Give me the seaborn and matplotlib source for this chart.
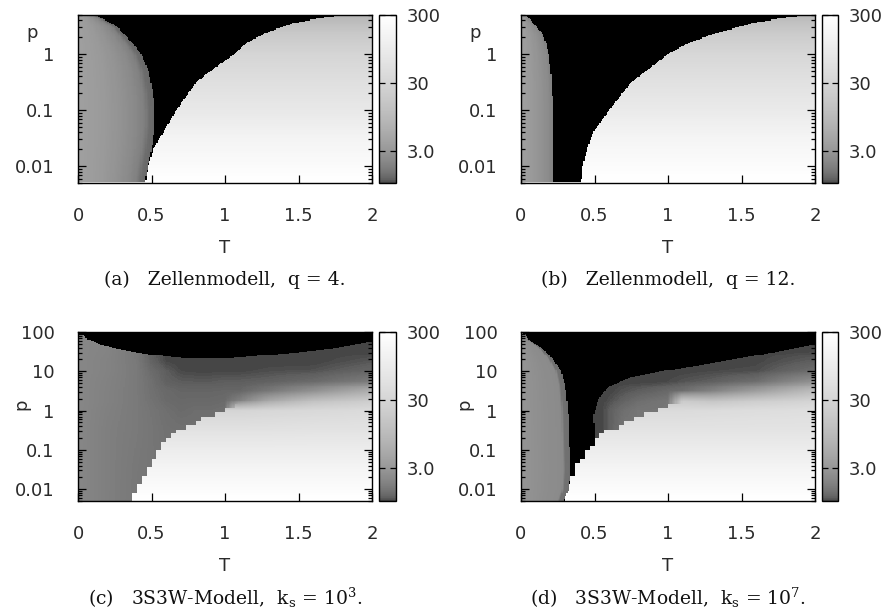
import numpy as np
import pandas as pd
import seaborn as sns
import matplotlib
matplotlib.use("Agg")
import matplotlib.pyplot as plt
from matplotlib.colors import LogNorm, LinearSegmentedColormap
from matplotlib.ticker import NullLocator

sns.set_theme(style="white")
plt.rcParams["font.family"] = ["DejaVu Sans"]
plt.rcParams["mathtext.fontset"] = "dejavuserif"

# ---------------------------------------------------------------- axes ranges
T_MIN, T_MAX = 0.0, 2.0
P_MIN = 0.005
P_MAX_CELL = 5.0      # cell model panels
P_MAX_3S3W = 100.0    # 3S3W panels
CB_MIN, CB_MAX = 1.0, 300.0

T_TICKS = [0, 0.5, 1, 1.5, 2]
T_LABELS = ["0", "0.5", "1", "1.5", "2"]
P_TICKS_CELL = [0.01, 0.1, 1]
P_LABELS_CELL = ["0.01", "0.1", "1"]
P_TICKS_3S3W = [0.01, 0.1, 1, 10, 100]
P_LABELS_3S3W = ["0.01", "0.1", "1", "10", "100"]
CB_TICKS = [3, 30, 300]
CB_LABELS = ["3.0", "30", "300"]

CAPTIONS = [
    "(a)   Zellenmodell,  q = 4.",
    "(b)   Zellenmodell,  q = 12.",
    r"(c)   3S3W-Modell,  $\mathrm{k_s}$ = 10$^{3}$.",
    r"(d)   3S3W-Modell,  $\mathrm{k_s}$ = 10$^{7}$.",
]

# ------------------------------------------------ (a) cell model, q = 4
# right edge of the dense (left) phase: log10 p -> T
a_dense_lp = [-2.30, -2.0, -1.7, -1.3, -1.0, -0.7, -0.3, 0.0, 0.2, 0.37, 0.5, 0.6, 0.7]
a_dense_T = [0.455, 0.475, 0.50, 0.52, 0.52, 0.51, 0.48, 0.43, 0.37, 0.31, 0.26, 0.19, 0.11]
# left edge of the dilute (right) phase: log10 p -> T
a_gas_lp = [-2.30, -2.0, -1.7, -1.4, -1.0, -0.5, -0.22, 0.0, 0.2, 0.37, 0.55, 0.64, 0.7]
a_gas_T = [0.458, 0.478, 0.51, 0.578, 0.669, 0.805, 0.941, 1.066, 1.145, 1.27, 1.46, 1.64, 1.85]
# dense phase value across its width (T / edge)
a_dense_frac = [0.0, 0.3, 0.6, 0.85, 0.93, 1.0]
a_dense_val = [3.86, 3.33, 2.55, 1.82, 1.31, 1.23]
# dilute phase value versus log10 p
a_gas_val_lp = [-2.3, -2.0, -1.5, -1.0, -0.5, 0.0, 0.4, 0.7]
a_gas_val = [300, 230, 150, 80, 50, 30, 16, 8]
a_floor_val = 90.0

# ------------------------------------------------ (b) cell model, q = 12
b_dense_lp = [-2.3, -1.0, -0.5, 0.0, 0.2, 0.375, 0.55, 0.7]
b_dense_T = [0.215, 0.215, 0.21, 0.188, 0.17, 0.143, 0.086, 0.03]
b_gas_lp = [-2.30, -2.0, -1.7, -1.4, -1.0, -0.5, -0.22, 0.0, 0.2, 0.37, 0.55, 0.64, 0.7]
b_gas_T = [0.41, 0.42, 0.45, 0.49, 0.60, 0.75, 0.89, 1.0, 1.14, 1.32, 1.57, 1.77, 1.98]
b_dense_frac = [0.0, 0.5, 0.85, 1.0]
b_dense_val = [3.86, 2.9, 2.26, 1.82]
b_gas_val_lp = [-2.3, -2.0, -1.5, -1.0, -0.5, 0.0, 0.4, 0.7]
b_gas_val = [300, 240, 160, 88, 55, 33, 18, 9]
b_floor_val = 90.0

# ------------------------------------------------ (c) 3S3W, k_s = 1e3
# upper limit of the solution: T -> log10 p
c_top_T = [0.0, 0.045, 0.06, 0.15, 0.26, 0.37, 0.49, 0.6, 0.74, 0.87, 1.05, 1.28, 1.51, 1.73, 2.0]
c_top_lp = [1.95, 1.91, 1.82, 1.68, 1.58, 1.50, 1.43, 1.38, 1.33, 1.32, 1.34, 1.41, 1.49, 1.58, 1.75]
# value table (rows: log10 p from high to low, columns: T)
c_tab_T = [0.0, 0.2, 0.4, 0.5, 0.6, 0.7, 0.8, 0.9, 1.0, 1.1, 1.3, 1.6, 2.0]
c_tab_lp = [2.0, 1.5, 1.25, 1.0, 0.75, 0.5, 0.25, 0.0, -0.5, -1.0, -1.5, -2.3]
c_tab_val = [
    [2.05, 1.90, 1.52, 1.11, 1.00, 1.00, 1.00, 1.00, 1.00, 1.00, 1.00, 1.00, 1.00],
    [2.05, 1.90, 1.52, 1.11, 1.00, 1.00, 1.00, 1.00, 1.00, 1.00, 1.00, 1.00, 1.00],
    [2.05, 1.86, 1.55, 1.16, 1.02, 1.00, 1.00, 1.00, 1.00, 1.00, 1.00, 1.00, 1.08],
    [2.05, 1.86, 1.57, 1.27, 1.11, 1.02, 1.01, 1.01, 1.01, 1.01, 1.04, 1.06, 1.20],
    [2.05, 1.82, 1.57, 1.34, 1.14, 1.10, 1.09, 1.09, 1.11, 1.11, 1.14, 1.25, 1.60],
    [2.05, 1.80, 1.57, 1.36, 1.24, 1.19, 1.19, 1.19, 1.20, 1.20, 1.50, 2.50, 6.00],
    [2.05, 1.80, 1.57, 1.40, 1.27, 1.23, 1.24, 1.24, 1.27, 1.80, 5.00, 12.0, 20.0],
    [2.05, 1.76, 1.57, 1.45, 1.34, 1.27, 1.31, 1.31, 1.34, 30.0, 33.0, 36.0, 40.0],
    [2.05, 1.72, 1.57, 1.47, 1.38, 1.36, 1.36, 1.36, 1.36, 58.0, 58.0, 60.0, 60.0],
    [2.05, 1.72, 1.55, 1.47, 1.40, 1.36, 1.36, 1.36, 1.36, 100., 100., 100., 100.],
    [2.05, 1.72, 1.53, 1.47, 1.40, 1.36, 1.36, 1.36, 1.36, 160., 160., 160., 160.],
    [2.05, 1.72, 1.52, 1.47, 1.40, 1.36, 1.36, 1.36, 1.36, 300., 300., 300., 300.],
]
# temperature above which both phases are one branch
c_crit_T = 1.1
# left edge of the dilute phase: log10 p -> T
c_gas_lp = [-2.3, -2.0, -1.75, -1.5, -1.25, -1.0, -0.75, -0.55, -0.4, -0.2, -0.1, 0.05, 0.15]
c_gas_T = [0.374, 0.385, 0.43, 0.465, 0.51, 0.544, 0.59, 0.646, 0.737, 0.85, 0.94, 1.03, 1.08]

# ------------------------------------------------ (d) 3S3W, k_s = 1e7
d_dense_lp = [-2.3, -2.0, -1.5, -1.0, 0.0, 0.66, 1.03, 1.34, 1.6, 1.77, 1.94, 2.0]
d_dense_T = [0.29, 0.325, 0.335, 0.33, 0.32, 0.30, 0.27, 0.21, 0.14, 0.06, 0.03, 0.0]
d_dense_frac = [0.0, 0.5, 0.85, 0.9, 1.0]
d_dense_val = [2.76, 2.37, 2.16, 1.40, 1.31]
# left edge of the solution right of the gap: log10 p -> T
d_edge_lp = [-2.3, -0.85, -0.8, -0.11, 0.32, 0.62, 0.83, 1.0, 1.21, 1.43, 1.68, 1.8]
d_edge_T = [2.1, 2.1, 0.50, 0.494, 0.53, 0.60, 0.73, 0.96, 1.30, 1.64, 2.0, 2.3]
d_tab_T = [0.45, 0.5, 0.55, 0.6, 0.7, 0.8, 0.9, 1.0, 1.1, 1.3, 1.6, 2.0]
d_tab_lp = [2.0, 1.75, 1.5, 1.25, 1.0, 0.75, 0.5, 0.25, 0.0, -0.5, -1.0, -1.5, -2.3]
d_tab_val = [
    [1.0] * 12,
    [1.0] * 12,
    [1.0] * 11 + [1.02],
    [1.0] * 10 + [1.01, 1.12],
    [1.0] * 9 + [1.02, 1.04, 1.30],
    [1.0, 1.0, 1.0, 1.0, 1.0, 1.0, 1.0, 1.02, 1.06, 1.12, 1.30, 2.50],
    [1.0, 1.0, 1.0, 1.0, 1.06, 1.11, 1.16, 1.23, 1.31, 1.80, 3.50, 10.0],
    [1.0, 1.0, 1.0, 1.04, 1.16, 1.31, 1.40, 1.47, 18.0, 14.0, 20.0, 28.0],
    [1.0, 1.0, 1.01, 1.11, 1.34, 1.47, 1.47, 1.47, 40.0, 42.0, 45.0, 48.0],
    [1.0, 1.0, 1.01, 1.11, 1.47, 1.47, 1.47, 1.47, 62.0, 62.0, 62.0, 62.0],
    [1.0] * 8 + [100.0] * 4,
    [1.0] * 8 + [160.0] * 4,
    [1.0] * 8 + [300.0] * 4,
]
d_crit_T = 1.1
d_gas_lp = [-2.3, -1.99, -1.82, -1.65, -1.56, -1.39, -1.22, -1.05, -0.88, -0.71, -0.54,
            -0.41, -0.2, -0.07, 0.02, 0.145, 0.27]
d_gas_T = [0.29, 0.30, 0.324, 0.347, 0.358, 0.38, 0.414, 0.437, 0.482, 0.516, 0.573,
           0.664, 0.754, 0.845, 0.935, 1.026, 1.117]


# ---------------------------------------------------------------- helpers
def make_grid(nT, nP, lp_lo, lp_hi):
    T = T_MIN + (T_MAX - T_MIN) * (np.arange(nT) + 0.5) / nT
    LP = lp_hi - (lp_hi - lp_lo) * (np.arange(nP) + 0.5) / nP   # top row = high p
    return np.meshgrid(T, LP)


def snap(v, lo, hi, n):
    step = (hi - lo) / n
    return lo + step * (np.floor((v - lo) / step) + 0.5)


def table_field(Tg, LPg, tab_T, tab_lp, tab_val):
    lp_axis = np.asarray(tab_lp, float)[::-1]
    logv = np.log10(np.asarray(tab_val, float))[::-1]
    out = np.empty(Tg.shape)
    for i in range(Tg.shape[0]):
        col = np.array([np.interp(LPg[i, 0], lp_axis, logv[:, k]) for k in range(logv.shape[1])])
        out[i] = np.interp(Tg[i], tab_T, col)
    return 10 ** out


def cell_model(dense_lp, dense_T, gas_lp, gas_T, frac, dval, gval_lp, gval, floor_val):
    lo, hi = np.log10(P_MIN), np.log10(P_MAX_CELL)
    Tg, LPg = make_grid(240, 150, lo, hi)
    edge1 = np.interp(LPg, dense_lp, dense_T)
    edge2 = np.interp(LPg, gas_lp, gas_T)
    Z = np.full(Tg.shape, np.nan)
    dense = Tg <= edge1
    Z[dense] = np.interp(Tg[dense] / edge1[dense], frac, dval)
    gas = Tg >= edge2
    Z[gas] = 10 ** np.interp(LPg[gas], gval_lp, np.log10(gval))
    floor = Tg[-1] < edge2[-1]
    Z[-1, floor] = floor_val
    return Z, (lo, hi)


def three_phase(tab_T, tab_lp, tab_val, crit_T, gas_lp, gas_T):
    lo, hi = np.log10(P_MIN), np.log10(P_MAX_3S3W)
    Tg, LPg = make_grid(240, 180, lo, hi)
    Tq, LPq = snap(Tg, T_MIN, T_MAX, 60), snap(LPg, lo, hi, 40)
    Z = table_field(Tg, LPg, tab_T, tab_lp, tab_val)
    Zgas = table_field(np.maximum(Tg, crit_T), LPg, tab_T, tab_lp, tab_val)
    gas = Tq >= np.interp(LPq, gas_lp, gas_T, right=np.inf)
    Z[gas] = Zgas[gas]
    return Z, Tg, LPg, gas, (lo, hi)


def model_c():
    Z, Tg, LPg, gas, rng = three_phase(c_tab_T, c_tab_lp, c_tab_val, c_crit_T, c_gas_lp, c_gas_T)
    Z[LPg > np.interp(Tg, c_top_T, c_top_lp)] = np.nan
    return Z, rng


def model_d():
    Z, Tg, LPg, gas, rng = three_phase(d_tab_T, d_tab_lp, d_tab_val, d_crit_T, d_gas_lp, d_gas_T)
    edge1 = np.interp(LPg, d_dense_lp, d_dense_T)
    dense = Tg <= edge1
    gap = (~dense) & (~gas) & (Tg < np.interp(LPg, d_edge_lp, d_edge_T))
    Z[dense] = np.interp(Tg[dense] / edge1[dense], d_dense_frac, d_dense_val)
    Z[gap] = np.nan
    return Z, rng


# gray palette, dark gray at the bottom of the colour range up to white
_f = np.linspace(0, 1, 65)
_g = (70 + 185 * np.sqrt(_f)) / 255
cmap = LinearSegmentedColormap.from_list("gray_palette", [(a, (b, b, b)) for a, b in zip(_f, _g)])
cmap.set_bad("black")

W, H = 889, 615
TXT = "#2a2a2a"
FS = 13


def box(x0, y0, x1, y1):
    return [x0 / W, 1 - y1 / H, (x1 - x0) / W, (y1 - y0) / H]


def draw(fig, plot_px, cbar_px, Z, lp_range, p_ticks, p_labels, caption, rotated_p):
    ax = fig.add_axes(box(*plot_px))
    cax = fig.add_axes(box(*cbar_px))
    ax.set_facecolor("black")
    nP, nT = Z.shape
    sns.heatmap(pd.DataFrame(Z), ax=ax, cbar_ax=cax, cmap=cmap,
                norm=LogNorm(vmin=CB_MIN, vmax=CB_MAX),
                xticklabels=False, yticklabels=False, rasterized=True)
    ax.set_axisbelow(False)
    cax.set_axisbelow(False)
    lo, hi = lp_range

    def xpos(t):
        return (t - T_MIN) / (T_MAX - T_MIN) * nT

    def ypos(p):
        return (hi - np.log10(p)) / (hi - lo) * nP

    ax.set_xticks([xpos(t) for t in T_TICKS])
    ax.set_xticklabels(T_LABELS, rotation=0)
    ax.set_yticks([ypos(p) for p in p_ticks])
    ax.set_yticklabels(p_labels, rotation=0)
    minor = [k * 10.0 ** d for d in range(-3, 3) for k in range(2, 10)]
    minor = [m for m in minor if 10 ** lo - 1e-9 <= m <= 10 ** hi + 1e-9]
    ax.set_yticks([ypos(m) for m in minor], minor=True)
    ax.xaxis.set_minor_locator(NullLocator())

    ax.tick_params(axis="x", which="major", direction="in", bottom=True, top=False,
                   length=6, width=0.9, color="black", pad=17, labelsize=FS, labelcolor=TXT)
    ax.tick_params(axis="y", which="major", direction="in", left=True, right=True,
                   length=6, width=0.9, color="black", pad=17, labelsize=FS, labelcolor=TXT)
    ax.tick_params(axis="y", which="minor", direction="in", left=True, right=True,
                   length=3, width=0.9, color="black")
    for s in ax.spines.values():
        s.set_visible(True)
        s.set_color("black")
        s.set_linewidth(1.0)
        s.set_zorder(5)

    ph = plot_px[3] - plot_px[1]
    pw = plot_px[2] - plot_px[0]
    ax.set_xlabel("T", fontsize=FS, color=TXT, va="center")
    ax.xaxis.set_label_coords(0.5, -65 / ph)
    if rotated_p:
        ax.set_ylabel("p", fontsize=FS, color=TXT, rotation=90, va="center", ha="center")
        ax.yaxis.set_label_coords(-57 / pw, 0.57)
    else:
        ax.set_ylabel("p", fontsize=FS, color=TXT, rotation=0, va="center", ha="center")
        ax.yaxis.set_label_coords(-46 / pw, 1 - 18 / ph)

    cb = ax.collections[0].colorbar
    cb.outline.set_linewidth(1.0)
    cb.outline.set_edgecolor("black")
    cb.set_ticks(CB_TICKS)
    cb.set_ticklabels(CB_LABELS)
    cax.yaxis.set_minor_locator(NullLocator())
    cax.tick_params(axis="y", which="major", direction="in", left=True, right=True,
                    length=4, width=0.9, color="black", labelleft=False, labelright=True,
                    pad=8, labelsize=FS, labelcolor=TXT)

    ax.text(0.5, -97 / ph, caption, transform=ax.transAxes, ha="center", va="center",
            fontsize=13.5, family="DejaVu Serif", color="#111111")


fig = plt.figure(figsize=(W / 100, H / 100), dpi=100)
fig.patch.set_facecolor("white")

Za, ra = cell_model(a_dense_lp, a_dense_T, a_gas_lp, a_gas_T, a_dense_frac, a_dense_val,
                    a_gas_val_lp, a_gas_val, a_floor_val)
Zb, rb = cell_model(b_dense_lp, b_dense_T, b_gas_lp, b_gas_T, b_dense_frac, b_dense_val,
                    b_gas_val_lp, b_gas_val, b_floor_val)
Zc, rc = model_c()
Zd, rd = model_d()

draw(fig, (78, 15, 372, 183), (379, 15, 396, 183), Za, ra, P_TICKS_CELL, P_LABELS_CELL, CAPTIONS[0], False)
draw(fig, (521, 15, 815, 183), (822, 15, 838, 183), Zb, rb, P_TICKS_CELL, P_LABELS_CELL, CAPTIONS[1], False)
draw(fig, (78, 332, 372, 501), (379, 332, 396, 501), Zc, rc, P_TICKS_3S3W, P_LABELS_3S3W, CAPTIONS[2], True)
draw(fig, (521, 332, 815, 501), (822, 332, 838, 501), Zd, rd, P_TICKS_3S3W, P_LABELS_3S3W, CAPTIONS[3], True)

fig.savefig("out.png", dpi=100, facecolor="white")
